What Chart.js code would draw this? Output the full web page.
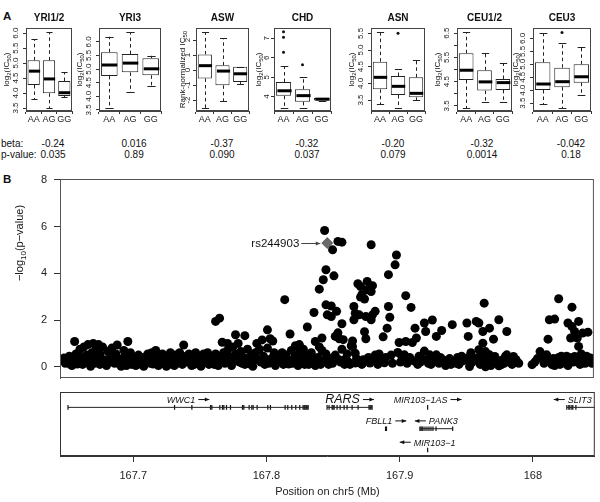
<!DOCTYPE html>
<html lang="en">
<head>
<meta charset="UTF-8">
<meta name="viewport" content="width=device-width, initial-scale=1.0">
<title>RARS rs244903 association</title>
<style>
  body { margin: 0; background: #fff; font-family: "Liberation Sans", Arial, Helvetica, sans-serif; color: #111; }
  #fig { position: relative; width: 600px; height: 502px; overflow: hidden; background: #fff; }
  .box { position: absolute; }
  .txt { position: absolute; white-space: nowrap; font-size: 10px; line-height: 12px; }
  .mid { width: 100px; text-align: center; }
  .letter { position: absolute; font-weight: bold; font-size: 11.5px; line-height: 12px; }
</style>
</head>
<body>
<div id="fig">
  <div class="letter" style="left:3px;top:10px">A</div>
  <div class="letter" style="left:3px;top:173px">B</div>
</div>
<script src="https://cdn.jsdelivr.net/npm/chart.js"></script>
<script>
const FONT = '"Liberation Sans", Arial, Helvetica, sans-serif';

// ---- panel A: box summaries [lower whisker, Q1, median, Q3, upper whisker] for AA, AG, GG ----
const genotypes = ['AA', 'AG', 'GG'];
const populations = ['YRI1/2', 'YRI3', 'ASW', 'CHD', 'ASN', 'CEU1/2', 'CEU3'];

const yri12Stats = [[3.80, 4.27, 4.73, 5.09, 5.79], [3.50, 3.99, 4.47, 5.09, 6.02], [3.86, 3.90, 4.01, 4.40, 4.69]];
const yri3Stats  = [[3.57, 4.75, 5.15, 5.62, 6.19], [4.16, 4.88, 5.22, 5.55, 6.35], [4.39, 4.77, 5.01, 5.40, 5.49]];
const aswStats   = [[-2.56, -0.56, 0.29, 1.04, 2.51], [-2.07, -1.02, -0.07, 0.31, 2.11], [-0.93, -0.80, -0.25, 0.22, 0.22]];
const chdStats   = [[3.40, 4.04, 4.30, 4.75, 5.55], [3.40, 3.73, 4.05, 4.38, 5.00], [3.80, 3.80, 3.87, 3.93, 3.93]];
const asnStats   = [[3.37, 3.82, 4.18, 4.65, 5.53], [3.25, 3.65, 3.91, 4.22, 4.42], [3.50, 3.58, 3.70, 4.18, 4.70]];
const ceu12Stats = [[3.41, 4.57, 4.97, 5.67, 6.53], [3.66, 4.13, 4.49, 4.97, 5.67], [3.65, 4.16, 4.46, 4.61, 5.26]];
const ceu3Stats  = [[3.47, 4.01, 4.24, 5.08, 6.19], [3.31, 4.12, 4.33, 4.87, 5.81], [3.82, 4.29, 4.52, 5.00, 5.68]];

const chdOutliers  = [['AA', 7.34], ['AA', 7.06], ['AA', 6.28], ['AG', 5.64]];
const asnOutliers  = [['AG', 5.50]];
const ceu3Outliers = [['AG', 6.23]];

const betas   = ['-0.24', '0.016', '-0.37', '-0.32', '-0.20', '-0.32', '-0.042'];
const pValues = ['0.035', '0.89', '0.090', '0.037', '0.079', '0.0014', '0.18'];

// y axis ranges and ticks of the box panels
const yRanges = [[3.40, 6.17], [3.46, 6.51], [-2.73, 2.80], [3.26, 7.53], [3.17, 5.66], [3.29, 6.71], [3.20, 6.40]];
const yri12Ticks = [3.5, 4.0, 4.5, 5.0, 5.5, 6.0];
const yri3Ticks  = [3.5, 4.0, 4.5, 5.0, 5.5, 6.0];
const aswTicks   = [-2, -1, 0, 1, 2];
const chdTicks   = [4, 5, 6, 7];
const asnTicks   = [3.5, 4.0, 4.5, 5.0, 5.5];
const ceu12Ticks = [3.5, 4.0, 4.5, 5.0, 5.5, 6.0, 6.5];
const ceu3Ticks  = [3.5, 4.0, 4.5, 5.0, 5.5, 6.0];

// ---- panel B: SNP positions (Mb on chr5) and -log10(p) ----
const snps = [
  [167.648,0.37],[167.651,0.20],[167.653,0.09],[167.654,0.05],[167.656,1.08],[167.657,0.55],[167.659,0.30],[167.660,0.75],[167.662,0.10],[167.663,0.85],
  [167.665,0.50],[167.666,0.95],[167.668,0.02],[167.669,0.60],[167.670,1.00],[167.672,0.30],[167.672,0.75],[167.674,0.95],[167.675,0.10],[167.675,0.55],
  [167.677,0.85],[167.678,0.30],[167.680,0.05],[167.681,0.65],[167.683,0.40],[167.684,0.80],[167.686,0.15],[167.687,0.55],[167.688,0.93],[167.690,0.30],
  [167.691,0.02],[167.693,0.70],[167.694,0.45],[167.696,0.20],[167.696,1.08],[167.698,0.60],[167.699,0.10],[167.701,0.35],
  [167.702,0.05],[167.704,0.50],[167.705,0.25],[167.707,0.40],[167.708,0.02],[167.710,0.35],[167.711,0.55],[167.713,0.15],[167.714,0.60],[167.716,0.30],
  [167.717,0.70],[167.719,0.05],[167.720,0.45],[167.722,0.55],[167.723,0.20],[167.725,0.02],[167.726,0.40],[167.728,0.60],[167.729,0.25],[167.731,0.05],
  [167.732,0.50],[167.734,0.30],[167.735,0.60],[167.737,0.10],[167.738,0.93],[167.739,0.40],[167.741,0.20],[167.742,0.55],[167.744,0.05],[167.745,0.35],
  [167.747,0.60],[167.748,0.15],[167.750,0.45],[167.751,0.02],[167.753,0.55],[167.754,0.30],[167.756,0.60],[167.757,0.10],[167.759,0.45],[167.760,0.20],
  [167.762,1.94],[167.765,2.08],[167.762,0.55],[167.764,0.05],[167.765,0.35],[167.767,1.05],[167.768,0.60],[167.769,0.15],[167.771,0.70],[167.771,1.00],
  [167.773,0.40],[167.774,0.05],[167.775,0.85],[167.777,1.37],[167.777,0.55],[167.779,1.00],[167.780,0.20],[167.781,0.65],[167.783,0.40],[167.784,1.33],
  [167.784,0.10],[167.786,0.75],[167.787,0.30],[167.789,0.50],[167.790,0.02],[167.792,0.60],[167.793,1.00],[167.794,0.30],[167.795,0.75],
  [167.797,1.15],[167.798,0.45],[167.799,0.10],[167.801,1.58],[167.801,0.80],[167.803,1.20],[167.804,0.35],[167.805,1.10],[167.806,0.60],[167.807,0.05],
  [167.809,0.45],[167.810,0.25],[167.812,0.60],[167.813,0.10],[167.814,2.87],[167.815,0.50],[167.816,0.30],[167.818,1.40],[167.819,0.70],[167.820,0.15],
  [167.822,0.90],[167.822,0.45],[167.824,0.05],[167.825,0.95],[167.825,0.60],
  [167.827,0.35],[167.828,0.75],[167.829,0.10],[167.831,0.50],[167.831,1.70],[167.833,0.25],[167.834,0.60],[167.836,2.32],[167.837,1.08],[167.837,0.05],
  [167.840,3.32],[167.839,0.40],[167.840,0.85],[167.842,1.23],[167.842,0.70],[167.843,3.72],[167.843,0.25],[167.844,5.83],[167.845,4.15],[167.845,0.55],
  [167.845,2.65],[167.846,2.22],[167.847,0.10],
  [167.849,2.60],[167.849,2.15],[167.850,5.00],[167.851,3.89],[167.852,1.30],[167.852,0.50],[167.854,5.36],[167.853,2.37],[167.854,1.45],[167.855,0.30],
  [167.855,1.20],[167.857,1.84],[167.857,0.75],[167.857,5.33],[167.858,1.16],[167.859,0.10],
  [167.861,0.55],[167.862,0.20],[167.864,0.90],[167.865,1.10],[167.865,0.86],[167.866,2.58],[167.867,2.29],[167.866,2.01],[167.869,3.55],[167.870,2.22],
  [167.871,3.43],[167.871,2.98],[167.872,3.08],[167.874,2.90],[167.875,2.15],[167.876,3.29],[167.876,3.65],[167.879,3.22],[167.879,2.01],[167.880,3.47],
  [167.880,2.22],[167.882,2.37],[167.879,5.22],[167.874,1.50],[167.875,1.20],[167.867,0.16],[167.870,0.23],[167.873,0.30],[167.878,0.16],[167.867,0.58],
  [167.882,0.50],[167.884,0.10],[167.885,0.55],
  [167.888,1.28],[167.889,0.17],[167.891,1.65],[167.892,3.94],[167.892,2.58],[167.893,2.12],[167.894,0.50],[167.897,4.36],[167.898,4.78],[167.899,0.61],
  [167.900,1.04],[167.901,0.20],[167.903,0.35],[167.904,0.51],[167.905,3.04],[167.905,1.08],[167.906,0.15],[167.908,0.40],[167.909,2.54],[167.910,1.04],
  [167.911,0.25],[167.912,1.65],[167.913,1.23],[167.914,0.10],
  [167.915,0.45],[167.916,0.20],[167.919,1.87],[167.919,0.67],[167.920,1.51],[167.921,0.30],[167.923,0.51],[167.924,0.10],[167.925,2.00],[167.926,0.35],
  [167.928,1.30],[167.928,0.51],[167.930,0.15],[167.932,1.55],[167.933,0.30],[167.935,0.05],[167.938,0.35],[167.940,1.80],[167.942,0.20],[167.944,0.40],
  [167.945,0.10],[167.948,0.25],[167.950,0.30],[167.951,1.87],[167.952,1.30],[167.952,0.40],[167.953,0.01],
  [167.954,0.60],[167.955,0.20],[167.958,1.94],[167.958,0.38],[167.960,1.87],[167.960,0.73],[167.961,0.10],[167.963,1.51],[167.963,1.01],[167.963,0.23],
  [167.964,2.72],[167.965,0.65],[167.965,0.00],[167.966,0.35],[167.968,1.65],[167.968,0.51],[167.969,0.05],[167.971,1.18],[167.972,0.44],[167.973,0.20],
  [167.975,2.01],[167.975,0.04],[167.977,0.09],[167.978,0.30],[167.980,0.45],[167.981,1.51],[167.981,0.51],[167.983,0.20],[167.984,0.23],[167.986,0.44],
  [167.988,0.30],[167.990,0.15],
  [168.000,0.09],[168.004,0.35],[168.006,0.65],[168.008,0.37],[168.010,0.45],[168.012,1.18],[168.011,0.51],[168.013,2.01],[168.013,0.23],[168.014,0.30],
  [168.015,0.09],[168.017,2.04],[168.017,0.05],[168.018,0.16],[168.020,0.40],[168.020,2.91],[168.021,0.10],[168.023,0.30],[168.024,0.23],[168.026,0.45],
  [168.027,1.87],[168.027,0.05],[168.029,1.23],[168.029,0.30],[168.030,2.55],[168.030,1.72],[168.031,0.20],[168.032,1.51],[168.032,0.44],[168.034,1.23],
  [168.035,0.87],[168.035,1.94],[168.035,0.23],[168.037,0.55],[168.038,1.44],[168.038,0.16],[168.040,0.15],[168.041,0.45],[168.042,1.48],[168.043,0.30],
  [168.044,0.37],
  // low-signal SNPs filling the baseline band
  [167.649,0.15],[167.652,0.45],[167.655,0.25],[167.658,0.12],[167.661,0.40],[167.664,0.22],[167.667,0.35],[167.671,0.15],[167.673,0.45],[167.676,0.28],
  [167.679,0.12],[167.682,0.22],[167.685,0.42],[167.689,0.15],[167.692,0.35],[167.695,0.05],[167.697,0.40],[167.700,0.22],[167.703,0.30],[167.706,0.10],
  [167.709,0.20],[167.712,0.42],[167.715,0.12],[167.718,0.35],[167.721,0.18],[167.724,0.40],[167.727,0.10],[167.730,0.38],[167.733,0.15],[167.736,0.30],
  [167.740,0.45],[167.743,0.25],[167.746,0.10],[167.749,0.30],[167.752,0.20],[167.755,0.45],[167.758,0.28],[167.761,0.10],[167.763,0.30],[167.766,0.20],
  [167.770,0.30],[167.772,0.18],[167.776,0.25],[167.778,0.40],[167.782,0.15],[167.785,0.35],[167.788,0.12],[167.791,0.35],[167.796,0.20],[167.800,0.30],
  [167.802,0.15],[167.808,0.25],[167.811,0.40],[167.817,0.12],[167.821,0.35],[167.823,0.20],[167.826,0.15],[167.830,0.30],[167.832,0.10],[167.835,0.40],
  [167.838,0.20],[167.841,0.10],[167.848,0.35],[167.850,0.15],[167.856,0.20],[167.860,0.35],[167.863,0.10],[167.868,0.35],[167.872,0.10],[167.877,0.40],
  [167.881,0.25],[167.886,0.30],[167.890,0.40],[167.895,0.15],[167.902,0.45],[167.907,0.30],[167.917,0.35],[167.922,0.15],[167.927,0.25],[167.931,0.40],
  [167.936,0.20],[167.939,0.10],[167.943,0.15],[167.947,0.45],[167.956,0.30],[167.962,0.40],[167.967,0.20],[167.970,0.35],[167.976,0.25],[167.979,0.15],
  [167.985,0.10],[168.002,0.20],[168.009,0.15],[168.016,0.35],[168.019,0.25],[168.022,0.45],[168.025,0.15],[168.028,0.40],[168.033,0.30],[168.036,0.10],
  [168.039,0.35],[168.045,0.15]
];
const topSnp = { name: 'rs244903', pos: 167.846, logP: 5.29 };
const logPTicks = [0, 2, 4, 6, 8];
const posTicks = [167.7, 167.8, 167.9, 168.0];
const posTickLabels = ['167.7', '167.8', '167.9', '168'];
const posRange = [167.645, 168.0465];

// ---- gene track ----
const geneNames  = ['WWC1', 'RARS', 'MIR103\u22121AS', 'FBLL1', 'PANK3', 'MIR103\u22121', 'SLIT3'];
const geneStart  = [167.651, 167.8455, 167.921, 167.8894, 167.9152, 167.921, 168.0255];
const geneEnd    = [167.8313, 167.8793, 167.921, 167.8901, 167.9398, 167.921, 168.30];
const geneStrand = ['+', '+', '+', '+', '-', '-', '-'];
const geneRow    = [1, 1, 1, 2, 2, 3, 1];
const geneExons  = [
  [167.651, 167.731, 167.744, 167.758, 167.759, 167.765, 167.767, 167.768, 167.770, 167.773, 167.782, 167.783, 167.787, 167.789,
   167.790, 167.793, 167.801, 167.803, 167.814, 167.816, 167.819, 167.822, 167.825, 167.8275, 167.8283, 167.829, 167.8298, 167.8305, 167.8313],
  [167.8455, 167.847, 167.8493, 167.850, 167.8508, 167.853, 167.8553, 167.8583, 167.8605, 167.8643, 167.8688, 167.877, 167.8778, 167.8785, 167.8793],
  [167.921],
  [167.8894, 167.8901],
  [167.9152, 167.916, 167.9168, 167.9175, 167.919, 167.9205, 167.922, 167.9235, 167.925, 167.9273, 167.9398],
  [167.921],
  [168.0255, 168.027, 168.0278, 168.0293, 168.030, 168.0323]
];
const geneFontSize = [9, 12.5, 9, 9, 9, 9, 9];

// ---- layout ----
const boxFrames = [
  { left: 26, right: 72, axisW: 26, titleOff: 20 },
  { left: 99, right: 161, axisW: 26, titleOff: 20 },
  { left: 196, right: 249, axisW: 26, titleOff: 14 },
  { left: 274, right: 334, axisW: 26, titleOff: 16 },
  { left: 371, right: 428, axisW: 26, titleOff: 20 },
  { left: 457, right: 512, axisW: 26, titleOff: 20 },
  { left: 533, right: 594, axisW: 26, titleOff: 18 }
];
const valueCenters = [53, 134, 222, 307, 393, 482, 571];

Chart.defaults.font.family = FONT;
Chart.defaults.color = '#1a1a1a';
Chart.defaults.animation = false;
Chart.defaults.events = [];
Chart.defaults.plugins.legend.display = false;
Chart.defaults.plugins.tooltip.enabled = false;

const fig = document.getElementById('fig');

function makeCanvas(left, top, width, height) {
  const div = document.createElement('div');
  div.className = 'box';
  div.style.cssText = `left:${left}px;top:${top}px;width:${width}px;height:${height}px`;
  const canvas = document.createElement('canvas');
  div.appendChild(canvas);
  fig.appendChild(div);
  return canvas;
}

function addText(text, left, top, centered) {
  const d = document.createElement('div');
  d.className = centered ? 'txt mid' : 'txt';
  d.style.left = (centered ? left - 50 : left) + 'px';
  d.style.top = top + 'px';
  d.textContent = text;
  fig.appendChild(d);
}

// text with sub-scripted parts, optionally rotated to read bottom-to-top
function drawRich(ctx, parts, cx, cy, rotate) {
  ctx.save();
  ctx.translate(cx, cy);
  if (rotate) ctx.rotate(-Math.PI / 2);
  ctx.textAlign = 'left';
  ctx.textBaseline = 'alphabetic';
  let total = 0;
  const widths = parts.map(p => {
    ctx.font = `${p[1]}px ${FONT}`;
    const w = ctx.measureText(p[0]).width;
    total += w;
    return w;
  });
  let x = -total / 2;
  parts.forEach((p, i) => {
    ctx.font = `${p[1]}px ${FONT}`;
    ctx.fillText(p[0], x, p[2]);
    x += widths[i];
  });
  ctx.restore();
}

// small arrow with a filled head, pointing right (dir 1) or left (dir -1)
function drawArrow(ctx, x0, x1, y, dir) {
  const tip = dir > 0 ? x1 : x0;
  ctx.beginPath();
  ctx.moveTo(x0, y);
  ctx.lineTo(x1, y);
  ctx.stroke();
  ctx.beginPath();
  ctx.moveTo(tip, y);
  ctx.lineTo(tip - dir * 4.5, y - 2);
  ctx.lineTo(tip - dir * 4.5, y + 2);
  ctx.closePath();
  ctx.fill();
}

const log2Title = [['log', 8, 0], ['2', 6, 2], ['(IC', 8, 0], ['50', 6, 2], [')', 8, 0]];
const rankTitle = [['Rank-normalized IC', 8, 0], ['50', 6, 2]];

const boxPlotPlugin = {
  id: 'boxplot',
  afterDatasetsDraw(chart, args, opts) {
    const { ctx, chartArea: a, scales: { y } } = chart;
    const bars = chart.getDatasetMeta(0).data;
    const seg = (x1, y1, x2, y2) => { ctx.beginPath(); ctx.moveTo(x1, y1); ctx.lineTo(x2, y2); ctx.stroke(); };
    ctx.save();
    opts.stats.forEach((s, i) => {
      const cx = Math.round(bars[i].x) + 0.5;
      const half = bars[i].width / 2;
      const [lo, q1, med, q3, hi] = s.map(v => y.getPixelForValue(v));
      ctx.strokeStyle = '#222';
      ctx.lineWidth = 1;
      ctx.setLineDash([3.5, 3]);
      seg(cx, q3, cx, hi);
      seg(cx, q1, cx, lo);
      ctx.setLineDash([]);
      seg(cx - half / 2, Math.round(hi) + 0.5, cx + half / 2, Math.round(hi) + 0.5);
      seg(cx - half / 2, Math.round(lo) + 0.5, cx + half / 2, Math.round(lo) + 0.5);
      ctx.lineWidth = 3;
      ctx.strokeStyle = '#000';
      seg(cx - half + 0.5, med, cx + half - 0.5, med);
    });
    ctx.lineWidth = 1;
    ctx.strokeStyle = '#444';
    ctx.strokeRect(a.left + 0.5, a.top + 0.5, a.width - 1, a.height - 1);
    ctx.fillStyle = '#111';
    ctx.font = `bold 10px ${FONT}`;
    ctx.textAlign = 'center';
    ctx.textBaseline = 'alphabetic';
    ctx.fillText(opts.title, (a.left + a.right) / 2, 21);
    drawRich(ctx, opts.ylab, a.left - opts.titleOff + 3, (a.top + a.bottom) / 2, true);
    ctx.restore();
  }
};

const panelStats = [yri12Stats, yri3Stats, aswStats, chdStats, asnStats, ceu12Stats, ceu3Stats];
const panelOutliers = [[], [], [], chdOutliers, asnOutliers, [], ceu3Outliers];
const panelTicks = [yri12Ticks, yri3Ticks, aswTicks, chdTicks, asnTicks, ceu12Ticks, ceu3Ticks];
const labelEvery = [1, 1, 1, 1, 1, 2, 1];

populations.forEach((name, i) => {
  const f = boxFrames[i];
  const width = f.right - f.left + f.axisW + 1;
  const canvas = makeCanvas(f.left - f.axisW, 0, width, 130);
  const ticks = panelTicks[i];
  const stats = panelStats[i];
  new Chart(canvas, {
    type: 'bar',
    data: {
      labels: genotypes,
      datasets: [
        {
          data: stats.map(s => [s[1], s[3]]),
          backgroundColor: '#fff',
          borderColor: '#222',
          borderWidth: 1,
          borderSkipped: false,
          barPercentage: 0.8,
          categoryPercentage: 1
        },
        {
          type: 'line',
          data: panelOutliers[i].map(o => ({ x: o[0], y: o[1] })),
          showLine: false,
          pointRadius: 1.5,
          pointBackgroundColor: '#111',
          pointBorderWidth: 0
        }
      ]
    },
    options: {
      responsive: true,
      maintainAspectRatio: false,
      layout: { padding: { top: 28, right: 1, bottom: 0, left: 0 } },
      scales: {
        x: {
          grid: { drawOnChartArea: false, tickLength: 3, color: '#333' },
          border: { color: '#444' },
          ticks: { font: { size: 9 }, padding: 0, color: '#222', autoSkip: false, minRotation: 0, maxRotation: 0 },
          afterFit: s => { s.height = 19; s.paddingLeft = 0; s.paddingRight = 0; }
        },
        y: {
          min: yRanges[i][0],
          max: yRanges[i][1],
          afterBuildTicks: s => { s.ticks = ticks.map(v => ({ value: v })); },
          ticks: {
            autoSkip: false,
            minRotation: 90,
            maxRotation: 90,
            crossAlign: 'center',
            padding: 2,
            font: { size: 8 },
            color: '#222',
            callback: (v, idx) => (idx % labelEvery[i] ? '' : (Number.isInteger(ticks[0]) ? String(v) : v.toFixed(1)))
          },
          grid: { drawOnChartArea: false, tickLength: 3, color: '#333' },
          border: { color: '#444' },
          afterFit: s => { s.width = f.axisW; s.paddingTop = 0; s.paddingBottom = 0; }
        }
      },
      plugins: { boxplot: { stats: stats, title: name, ylab: name === 'ASW' ? rankTitle : log2Title, titleOff: f.titleOff } }
    },
    plugins: [boxPlotPlugin]
  });
});

addText('beta:', 1, 138, false);
addText('p-value:', 1, 149, false);
betas.forEach((b, i) => addText(b, valueCenters[i], 138, true));
pValues.forEach((p, i) => addText(p, valueCenters[i], 149, true));

// ---- panel B scatter ----
const snpPlugin = {
  id: 'snpNotes',
  afterDatasetsDraw(chart) {
    const { ctx, chartArea: a, scales: { x, y } } = chart;
    ctx.save();
    ctx.strokeStyle = '#555';
    ctx.lineWidth = 1;
    ctx.strokeRect(a.left + 0.5, a.top + 0.5, a.width - 1, a.height - 1);
    const px = x.getPixelForValue(topSnp.pos);
    const py = Math.round(y.getPixelForValue(topSnp.logP)) + 0.5;
    const tip = px - 7, tail = px - 26;
    ctx.strokeStyle = '#444';
    ctx.fillStyle = '#444';
    drawArrow(ctx, tail, tip, py, 1);
    ctx.fillStyle = '#111';
    ctx.font = `11.5px ${FONT}`;
    ctx.textAlign = 'right';
    ctx.textBaseline = 'middle';
    ctx.fillText(topSnp.name, tail - 2, py);
    drawRich(ctx, [['\u2212log', 11, 0], ['10', 8, 3], ['(p\u2212value)', 11, 0]], 23, 73, true);
    ctx.restore();
  }
};

new Chart(makeCanvas(0, 170, 600, 215), {
  type: 'scatter',
  data: {
    datasets: [
      {
        data: snps.map(s => ({ x: s[0], y: s[1] })),
        pointRadius: 4.5,
        backgroundColor: '#000',
        borderColor: '#000',
        borderWidth: 0
      },
      {
        data: [{ x: topSnp.pos, y: topSnp.logP }],
        order: -1,
        pointStyle: 'rectRot',
        pointRadius: 5.5,
        backgroundColor: '#6a6a6a',
        borderColor: '#333',
        borderWidth: 0.6
      }
    ]
  },
  options: {
    responsive: true,
    maintainAspectRatio: false,
    layout: { padding: { top: 9, right: 5, bottom: 7, left: 0 } },
    scales: {
      x: { type: 'linear', min: posRange[0], max: posRange[1], display: false },
      y: {
        min: -0.48,
        max: 8.03,
        afterBuildTicks: s => { s.ticks = logPTicks.map(v => ({ value: v })); },
        ticks: { font: { size: 11 }, padding: 7, color: '#222' },
        grid: { drawOnChartArea: false, tickLength: 6, color: '#333' },
        border: { color: '#555' },
        afterFit: s => { s.width = 60; s.paddingTop = 0; s.paddingBottom = 0; }
      }
    }
  },
  plugins: [snpPlugin]
});

// ---- gene track ----
const genePlugin = {
  id: 'geneLabels',
  afterDatasetsDraw(chart) {
    const { ctx, chartArea: a, scales: { x, y } } = chart;
    ctx.save();
    ctx.strokeStyle = '#333';
    ctx.lineWidth = 1;
    ctx.strokeRect(a.left + 0.5, a.top + 0.5, a.width - 1, a.height - 1);
    ctx.fillStyle = '#111';
    ctx.strokeStyle = '#111';
    ctx.textAlign = 'left';
    ctx.textBaseline = 'alphabetic';
    const arrowW = 11, gap = 3;
    geneNames.forEach((name, i) => {
      const s = Math.max(geneStart[i], x.min), e = Math.min(geneEnd[i], x.max);
      ctx.font = `italic ${geneFontSize[i]}px ${FONT}`;
      const tw = ctx.measureText(name).width;
      const w = tw + gap + arrowW;
      let left = x.getPixelForValue((s + e) / 2) - w / 2;
      left = Math.min(left, a.right - 3 - w);
      const base = y.getPixelForValue(geneRow[i]) - 4.5;
      const mid = base - 3.3;
      if (geneStrand[i] === '+') {
        ctx.fillText(name, left, base);
        drawArrow(ctx, left + tw + gap, left + w, mid, 1);
      } else {
        drawArrow(ctx, left, left + arrowW, mid, -1);
        ctx.fillText(name, left + arrowW + gap, base);
      }
    });
    ctx.restore();
  }
};

const geneDatasets = geneNames.map((n, i) => ({
  type: 'line',
  data: [{ x: geneStart[i], y: geneRow[i] }, { x: geneEnd[i], y: geneRow[i] }],
  showLine: true,
  borderColor: '#222',
  borderWidth: 1,
  pointRadius: 0
}));
const exonPoints = [];
geneExons.forEach((ex, i) => ex.forEach(p => exonPoints.push({ x: p, y: geneRow[i] })));
geneDatasets.push({
  data: exonPoints,
  pointStyle: 'line',
  rotation: 90,
  pointRadius: 2.3,
  borderColor: '#111',
  borderWidth: 1.2
});

new Chart(makeCanvas(0, 385, 600, 117), {
  type: 'scatter',
  data: { datasets: geneDatasets },
  options: {
    responsive: true,
    maintainAspectRatio: false,
    layout: { padding: { top: 7, right: 5, bottom: 0, left: 60 } },
    scales: {
      x: {
        type: 'linear',
        min: posRange[0],
        max: posRange[1],
        afterBuildTicks: s => { s.ticks = posTicks.map(v => ({ value: v })); },
        ticks: { font: { size: 11 }, padding: 7, color: '#222', callback: (v, idx) => posTickLabels[idx] },
        grid: { drawOnChartArea: false, tickLength: 6, color: '#333' },
        border: { color: '#333' },
        title: { display: true, text: 'Position on chr5 (Mb)', font: { size: 11 }, color: '#222', padding: { top: 0, bottom: 3 } },
        afterFit: s => { s.height = 46; s.paddingLeft = 0; s.paddingRight = 0; }
      },
      y: { type: 'linear', reverse: true, min: 0.28, max: 3.28, display: false }
    }
  },
  plugins: [genePlugin]
});
</script>
</body>
</html>
